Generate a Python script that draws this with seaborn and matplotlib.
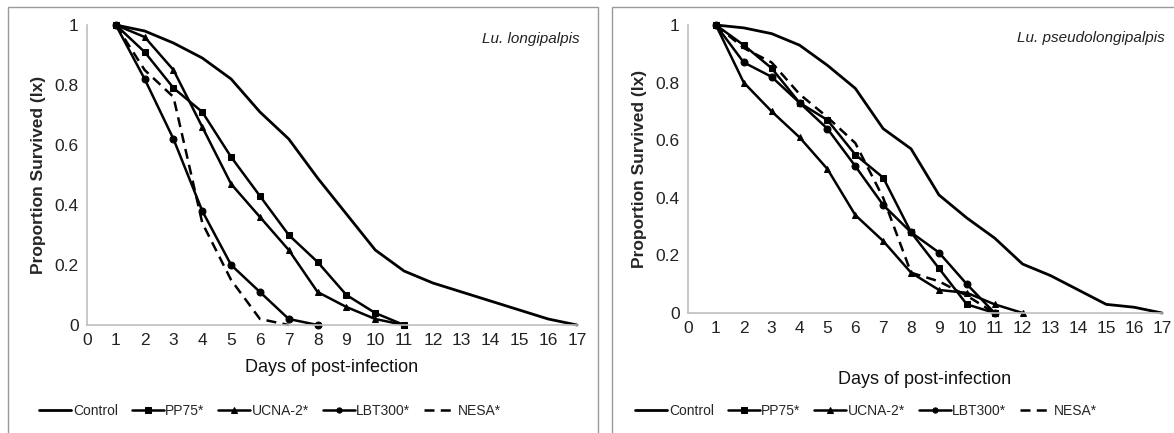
import numpy as np
import pandas as pd
import matplotlib
matplotlib.use("Agg")
import matplotlib.pyplot as plt
import seaborn as sns
from matplotlib.patches import Rectangle

sns.set_style("white")
plt.rcParams['font.family'] = ['Liberation Sans', 'DejaVu Sans']

# data: proportion survived (lx) per day of post-infection

# Lu. longipalpis
lon_control = [1.0, 0.98, 0.94, 0.89, 0.82, 0.71, 0.62, 0.49, 0.37, 0.25, 0.18, 0.14, 0.11, 0.08, 0.05, 0.02, 0.0]
lon_pp75 = [1.0, 0.91, 0.79, 0.71, 0.56, 0.43, 0.30, 0.21, 0.10, 0.04, 0.0]
lon_ucna = [1.0, 0.96, 0.85, 0.66, 0.47, 0.36, 0.25, 0.11, 0.06, 0.02, 0.0]
lon_lbt = [1.0, 0.82, 0.62, 0.38, 0.20, 0.11, 0.02, 0.0]
lon_nesa = [1.0, 0.85, 0.76, 0.34, 0.15, 0.02, 0.0]

# Lu. pseudolongipalpis
pse_control = [1.0, 0.99, 0.97, 0.93, 0.86, 0.78, 0.64, 0.57, 0.41, 0.33, 0.26, 0.17, 0.13, 0.08, 0.03, 0.02, 0.0]
pse_pp75 = [1.0, 0.93, 0.85, 0.73, 0.67, 0.55, 0.47, 0.28, 0.155, 0.03, 0.0]
pse_ucna = [1.0, 0.80, 0.70, 0.61, 0.50, 0.34, 0.25, 0.14, 0.08, 0.07, 0.03, 0.0]
pse_lbt = [1.0, 0.87, 0.82, 0.73, 0.64, 0.51, 0.375, 0.28, 0.21, 0.10, 0.0]
pse_nesa = [1.0, 0.92, 0.87, 0.76, 0.68, 0.59, 0.40, 0.14, 0.11, 0.06, 0.0]

names = ["Control", "PP75*", "UCNA-2*", "LBT300*", "NESA*"]
markers = [None, "s", "^", "o", None]
styles = ["-", "-", "-", "-", (0, (4, 2.5))]
widths = [2.0, 1.8, 1.8, 1.8, 1.8]

panels = [
    ("Lu. longipalpis", [lon_control, lon_pp75, lon_ucna, lon_lbt, lon_nesa]),
    ("Lu. pseudolongipalpis", [pse_control, pse_pp75, pse_ucna, pse_lbt, pse_nesa]),
]

W, H = 1174, 433
fig = plt.figure(figsize=(W / 100, H / 100), dpi=100)

# panel frames
for x0, x1 in [(8, 598), (612, 1180)]:
    fig.patches.append(Rectangle((x0 / W, -0.1), (x1 - x0) / W, 1 - 7 / H + 0.1,
                                 transform=fig.transFigure, fill=False,
                                 edgecolor="#9a9a9a", lw=1.0))

# axes boxes in pixels: (left, right, top(y=1), bottom(y=0))
boxes = [(87, 577, 25, 325), (688, 1162, 25, 313)]
xlab_y = [367, 380]
leg_x = [270, 866]

for i, (title, series) in enumerate(panels):
    l, r, t, b = boxes[i]
    ax = fig.add_axes([l / W, 1 - b / H, (r - l) / W, (b - t) / H])
    for name, vals, m, ls, lw in zip(names, series, markers, styles, widths):
        d = list(range(1, len(vals) + 1))
        sns.lineplot(x=d, y=vals, ax=ax, color="black", lw=lw, linestyle=ls,
                     marker=m, markersize=5, markeredgecolor="black",
                     label=name, clip_on=False, legend=False)
    ax.set_xlim(0, 17)
    ax.set_ylim(0, 1)
    ax.set_xticks(range(0, 18))
    ax.set_yticks([0, 0.2, 0.4, 0.6, 0.8, 1.0])
    ax.set_yticklabels(["0", "0.2", "0.4", "0.6", "0.8", "1"])
    ax.tick_params(length=0, labelsize=12.5, colors="#222222", pad=6)
    for s in ["top", "right"]:
        ax.spines[s].set_visible(False)
    for s in ["left", "bottom"]:
        ax.spines[s].set_color("#bfbfbf")
        ax.spines[s].set_linewidth(1.2)
    ax.set_ylabel("Proportion Survived (lx)", fontsize=12.5, fontweight="bold",
                  labelpad=6)
    ax.set_xlabel("")
    fig.text((l + r) / 2 / W, 1 - xlab_y[i] / H, "Days of post-infection",
             ha="center", va="center", fontsize=13, color="#111111")
    ax.text(1.005, 0.955, title, transform=ax.transAxes, ha="right", va="center",
            fontsize=11, style="italic", color="#222222")
    handles, labels = ax.get_legend_handles_labels()
    fig.legend(handles, labels, loc="center", ncol=5, frameon=False,
               bbox_to_anchor=(leg_x[i] / W, 1 - 411 / H), fontsize=10,
               handlelength=2.3, handletextpad=0.1, columnspacing=1.0,
               markerscale=0.75)

fig.savefig("out.png", dpi=100)
